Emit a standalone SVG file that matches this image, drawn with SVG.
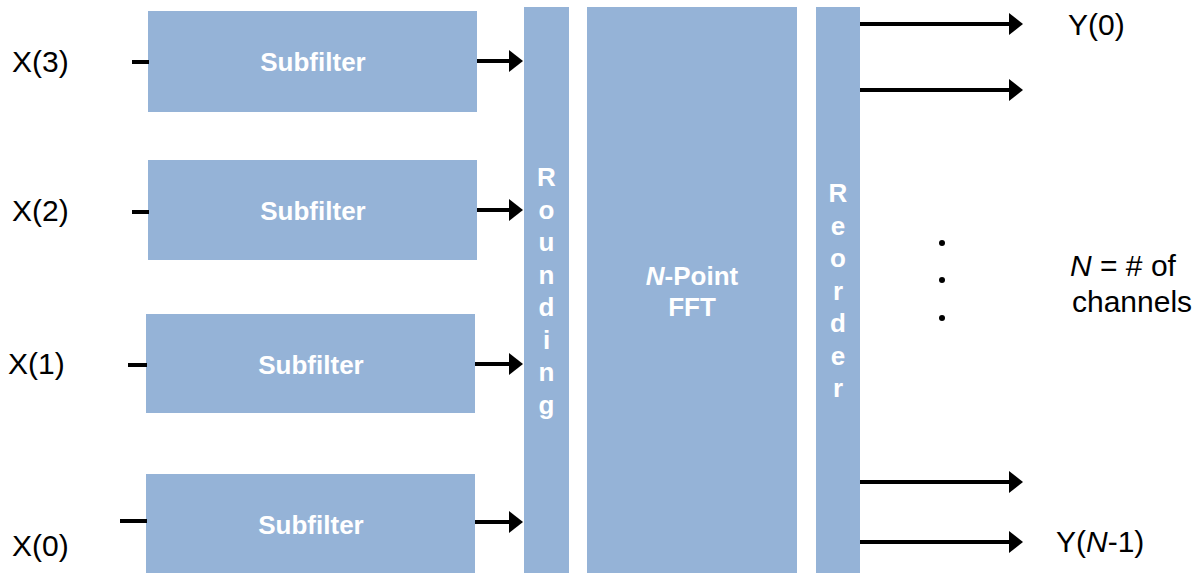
<svg xmlns="http://www.w3.org/2000/svg" width="1203" height="573" viewBox="0 0 1203 573">
<style>
.box{fill:#95b3d7;}
.lbl{font-family:"Liberation Sans",Arial,sans-serif;font-size:30px;fill:#000;}
.blbl{font-family:"Liberation Sans",Arial,sans-serif;font-size:26px;font-weight:bold;fill:#fff;text-anchor:middle;}
.ln{stroke:#000;stroke-width:4;fill:none;}
</style>
<defs>
<marker id="ah" markerUnits="userSpaceOnUse" markerWidth="14" markerHeight="22" refX="2" refY="11" orient="auto">
<path d="M0,0 L14,11 L0,22 z" fill="#000"/>
</marker>
</defs>
<rect width="1203" height="573" fill="#fff"/>

<g id="in3"><text class="lbl" x="12" y="72">X(3)</text></g>
<g id="in2"><text class="lbl" x="12" y="221">X(2)</text></g>
<g id="in1"><text class="lbl" x="8" y="374">X(1)</text></g>
<g id="in0"><text class="lbl" x="12" y="556">X(0)</text></g>

<g id="sub3"><rect class="box" x="148" y="11" width="329" height="101"/><text class="blbl" x="313" y="71">Subfilter</text></g>
<g id="sub2"><rect class="box" x="148" y="160" width="329" height="100"/><text class="blbl" x="313" y="220">Subfilter</text></g>
<g id="sub1"><rect class="box" x="146" y="314" width="329" height="99"/><text class="blbl" x="311" y="374">Subfilter</text></g>
<g id="sub0"><rect class="box" x="146" y="474" width="329" height="99"/><text class="blbl" x="311" y="534">Subfilter</text></g>

<g id="rounding"><rect class="box" x="524" y="7" width="45" height="566"/>
<text class="blbl" x="546.5" y="186">R</text>
<text class="blbl" x="546.5" y="218.5">o</text>
<text class="blbl" x="546.5" y="251">u</text>
<text class="blbl" x="546.5" y="283.5">n</text>
<text class="blbl" x="546.5" y="316">d</text>
<text class="blbl" x="546.5" y="348.5">i</text>
<text class="blbl" x="546.5" y="381">n</text>
<text class="blbl" x="546.5" y="413.5">g</text>
</g>

<g id="fft"><rect class="box" x="587" y="7" width="210" height="566"/>
<text class="blbl" x="692" y="285"><tspan font-style="italic">N</tspan>-Point</text>
<text class="blbl" x="692" y="316">FFT</text>
</g>

<g id="reorder"><rect class="box" x="816" y="7" width="44" height="566"/>
<text class="blbl" x="838" y="202">R</text>
<text class="blbl" x="838" y="234.5">e</text>
<text class="blbl" x="838" y="267">o</text>
<text class="blbl" x="838" y="299.5">r</text>
<text class="blbl" x="838" y="332">d</text>
<text class="blbl" x="838" y="364.5">e</text>
<text class="blbl" x="838" y="397">r</text>
</g>

<g id="out0"><text class="lbl" x="1068" y="35">Y(0)</text></g>
<g id="outN"><text class="lbl" x="1056" y="552">Y(<tspan font-style="italic">N</tspan>-1)</text></g>
<g id="note"><text class="lbl" x="1070" y="276"><tspan font-style="italic">N</tspan> = # of</text><text class="lbl" x="1072" y="312">channels</text></g>
<g id="dots" fill="#000"><circle cx="942" cy="243" r="3"/><circle cx="942" cy="280" r="3"/><circle cx="942" cy="318" r="3"/></g>

<g id="connectors">
<line class="ln" x1="132" y1="62" x2="149" y2="62"/>
<line class="ln" x1="132" y1="212" x2="149" y2="212"/>
<line class="ln" x1="128" y1="365" x2="147" y2="365"/>
<line class="ln" x1="120" y1="521" x2="147" y2="521"/>
<line class="ln" x1="477" y1="61" x2="511" y2="61" marker-end="url(#ah)"/>
<line class="ln" x1="477" y1="210" x2="511" y2="210" marker-end="url(#ah)"/>
<line class="ln" x1="475" y1="364" x2="511" y2="364" marker-end="url(#ah)"/>
<line class="ln" x1="475" y1="522" x2="511" y2="522" marker-end="url(#ah)"/>
<line class="ln" x1="860" y1="24" x2="1011" y2="24" marker-end="url(#ah)"/>
<line class="ln" x1="860" y1="90" x2="1011" y2="90" marker-end="url(#ah)"/>
<line class="ln" x1="860" y1="482" x2="1011" y2="482" marker-end="url(#ah)"/>
<line class="ln" x1="860" y1="542" x2="1011" y2="542" marker-end="url(#ah)"/>
</g>
</svg>
